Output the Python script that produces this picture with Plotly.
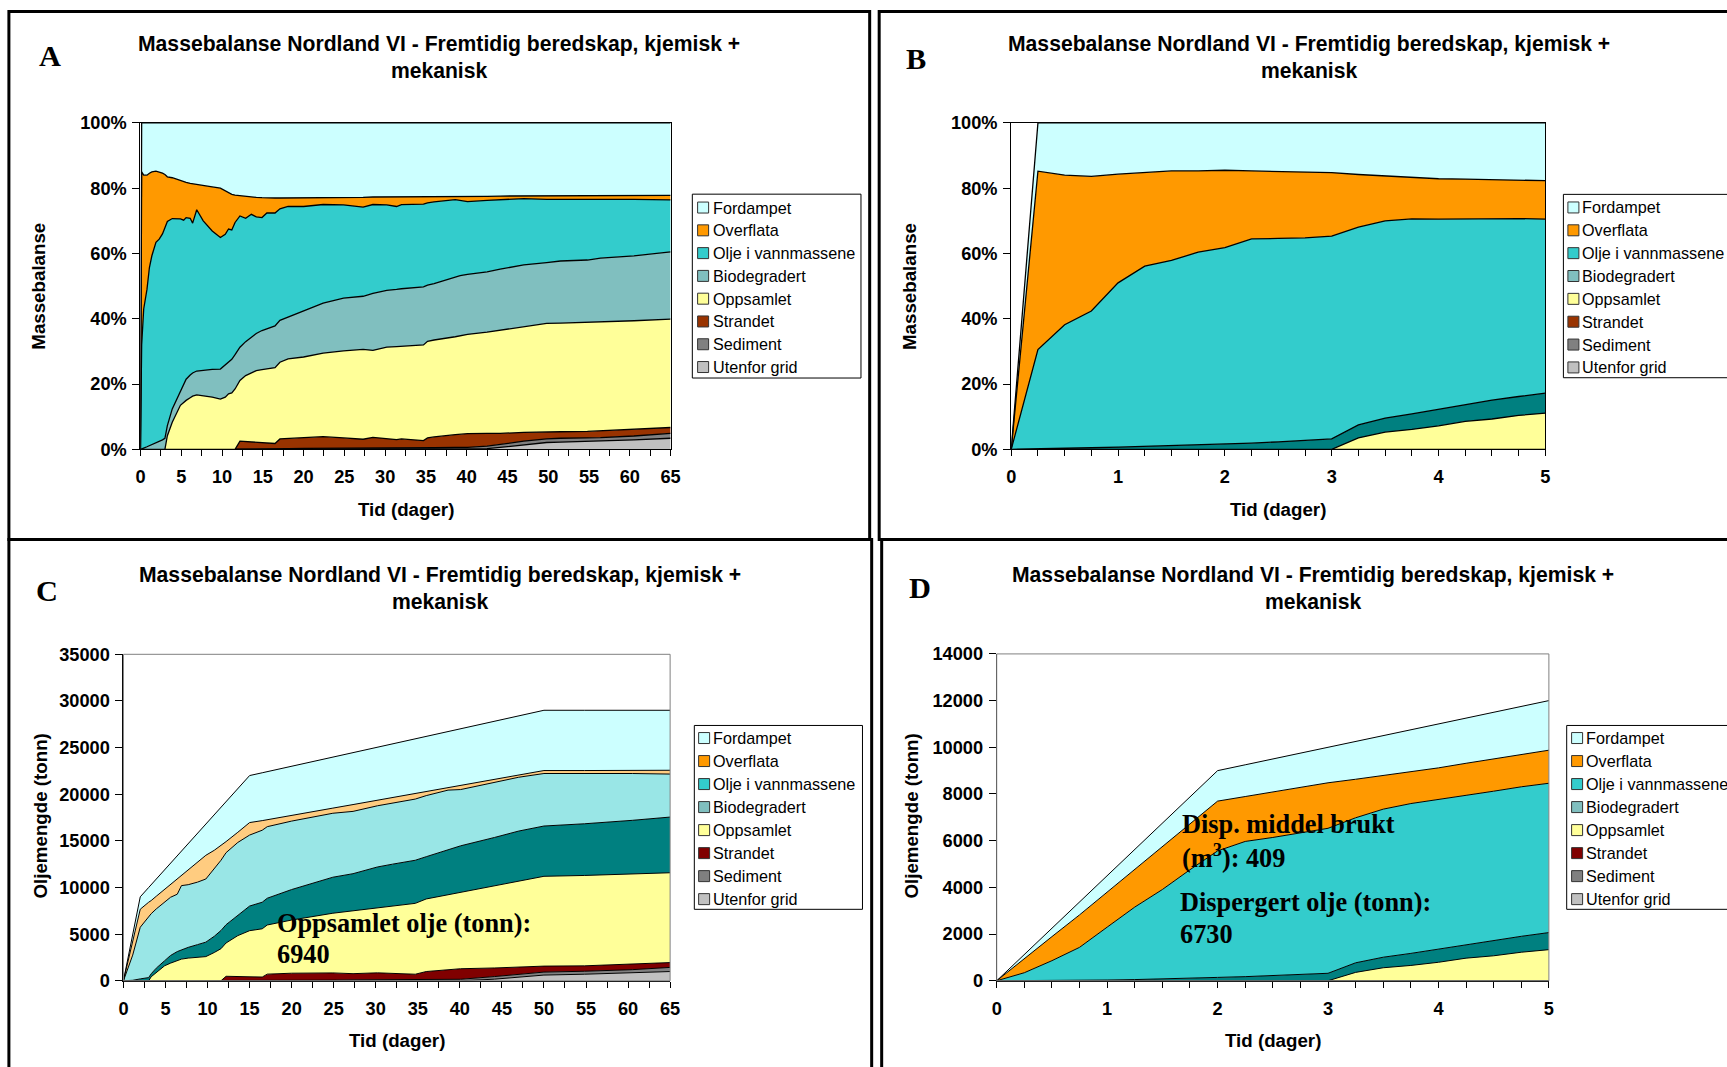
import plotly.graph_objects as go

W, H = 1727, 1067
# the captured page comes out slightly reduced and shifted; positions below are
# given in final page pixels and converted through this calibration
SX, OX = 0.991, 4.6
SY, OY = 0.982, 9.0
FS = 1.012
SANS = "Liberation Sans, Arial, Helvetica, sans-serif"
SERIF = "Liberation Serif, Times New Roman, Times, serif"

LAYERS = ["Utenfor grid", "Sediment", "Strandet", "Oppsamlet",
          "Biodegradert", "Olje i vannmassene", "Overflata", "Fordampet"]

# ---------------- Panel A: mass balance in percent, 0-65 days ----------------
days_a = [0, 0.15, 0.4, 0.8, 1.1, 1.4, 1.9, 2.3, 2.7, 3.0,
          3.3, 3.9, 4.9, 5.3, 5.6, 6.1, 6.4, 6.9, 7.7, 8.8,
          9.8, 10.4, 10.8, 11.2, 11.6, 12.2, 12.9, 13.6, 14.2, 14.9,
          15.5, 16.5, 17.1, 18.1, 20, 22.4, 24.9, 27.3, 28.5, 30.2,
          31.4, 32, 34.7, 35.2, 36, 38.6, 39.2, 40.1, 42.5, 44.1,
          47, 49.8, 51.5, 54.8, 56.4, 60.5, 65]
a_utenfor = [0] * 48 + [0.2, 0.6, 1.3, 2.1, 2.2, 2.4, 2.5, 2.9, 3.4]
a_sediment = [0] * 32 + [0.2, 0.2, 0.3, 0.3, 0.3, 0.4, 0.4, 0.4, 0.4, 0.5,
                         0.5, 0.5, 0.5, 0.6, 0.6, 0.6,
                         0.8, 1.0, 1.2, 1.1, 1.2, 1.1, 1.1, 1.2, 1.5]
a_strandet = [0] * 25 + [2.5, 2.4, 2.3, 2.2, 2.1, 2.0, 1.8,
                         3.0, 3.1, 3.2, 3.6, 3.2, 2.7, 3.3, 3.0, 2.6, 2.7,
                         2.2, 3.0, 3.3, 3.9, 4.1, 4.2,
                         3.9, 3.3, 2.7, 2.2, 2.0, 2.0, 2.1, 2.0, 1.8]
a_oppsamlet = [0] * 10 + [4.2, 8.3, 13.5, 14.5, 15.0, 15.8, 16.3, 16.7, 16.5, 16.0,
                          15.4, 16.0, 17.0, 17.3, 18.5,
                          18.6, 20.2, 21.2, 21.9, 22.3, 22.6, 23.2,
                          23.5, 24.4, 24.8, 25.6, 26.7, 27.5, 26.6, 27.9, 28.5, 28.4,
                          29.3, 29.6, 29.7, 30.0, 30.1, 30.4,
                          31.0, 31.6, 32.4, 33.2, 33.3, 33.4, 33.4, 33.3, 33.2]
a_bio = [0, 0.1, 0.4, 0.8, 1.1, 1.5, 2.1, 2.5, 2.9, 3.4,
         3.1, 4.1, 4.5, 5.5, 6.5, 7.0, 7.1, 7.3, 7.8, 8.5,
         9.2, 9.8, 9.8, 10.3, 10.5, 10.2, 10.4, 10.8, 11.4, 12.0,
         12.4, 12.8, 12.8, 12.8, 14.2, 15.3, 16.1, 16.3, 17.5, 17.4,
         17.5, 17.6, 17.8, 17.2, 17.3, 18.2, 18.4, 18.4, 18.5, 18.7,
         18.9, 18.6, 19.0, 19.1, 19.5, 19.9, 20.6]
a_olje = [0, 31.9, 42.6, 48.2, 54.6, 57.8, 61.3, 61.9, 63.1, 64.6,
          62.5, 58.3, 52.6, 50.2, 49.5, 48.0, 45.9, 49.4, 45.7, 42.4,
          40.3, 40.1, 40.7, 39.6, 40.5, 40.2, 37.8, 37.7, 35.7, 34.6,
          35.4, 34.6, 34.2, 33.9, 31.9, 30.2, 28.6, 27.3, 27.2, 26.2,
          25.4, 25.8, 25.3, 25.2, 25.0, 23.8, 23.0, 22.3, 21.9, 21.2,
          20.3, 19.4, 18.9, 18.7, 18.2, 17.3, 15.9]
a_overflata = [0, 53.0, 41.0, 35.0, 28.9, 25.7, 21.8, 20.6, 18.6, 16.2,
               13.7, 12.5, 11.7, 11.8, 10.8, 10.7, 12.1, 7.8, 10.8, 13.5,
               15.1, 13.3, 11.1, 10.9, 8.4, 6.2, 6.8, 5.3, 6.0, 6.1,
               4.6, 4.6, 3.3, 2.6, 2.6, 2.1, 2.3, 3.0, 2.3, 2.4,
               2.9, 2.3, 2.3, 1.9, 1.6, 1.0, 1.3, 1.6, 1.2, 1.2,
               0.8, 1.1, 1.1, 1.0, 0.9, 1.2, 1.4]
a_fordampet = [0, 15.0, 16.0, 16.0, 15.4, 15.0, 14.8, 15.0, 15.4, 15.8,
               16.5, 16.8, 17.7, 18.0, 18.2, 18.5, 18.6, 18.8, 19.2, 19.6,
               20.0, 20.8, 21.4, 21.9, 22.1, 22.3, 22.4, 22.7, 22.8, 22.9,
               23.0, 23.0, 23.0, 23.0, 23.0, 22.9, 22.8, 22.8, 22.7, 22.7,
               22.7, 22.7, 22.6, 22.6, 22.6, 22.5, 22.5, 22.5, 22.5, 22.4,
               22.4, 22.3, 22.3, 22.3, 22.3, 22.2, 22.2]

# ---------------- Panel B: mass balance in percent, 0-5 days ----------------
days_b = [0, 0.25, 0.5, 0.75, 1.0, 1.25, 1.5, 1.75, 2.0, 2.25, 2.5,
          2.75, 3.0, 3.25, 3.5, 3.75, 4.0, 4.25, 4.5, 4.75, 5.0]
b_utenfor = [0] * 21
b_sediment = [0] * 21
b_strandet = [0] * 21
b_oppsamlet = [0] * 13 + [3.5, 5.3, 6.1, 7.2, 8.6, 9.3, 10.4, 11.1]
b_bio = [0, 0.1, 0.3, 0.5, 0.7, 0.9, 1.1, 1.3, 1.6, 1.9, 2.3,
         2.8, 3.2, 4.0, 4.3, 4.8, 5.1, 5.2, 5.8, 5.8, 6.1]
b_olje = [0, 30.5, 37.9, 41.9, 50.3, 55.2, 56.8, 59.1, 60.2, 62.6, 62.3,
          62.0, 62.1, 60.6, 60.4, 59.7, 58.2, 56.8, 55.5, 54.5, 53.3]
b_overflata = [0, 54.6, 45.8, 41.2, 33.3, 28.7, 27.4, 24.9, 23.7, 20.8, 20.6,
               20.3, 19.5, 16.1, 13.7, 12.6, 12.4, 12.2, 12.1, 11.9, 11.8]
b_fordampet = [0, 14.8, 16.0, 16.4, 15.7, 15.2, 14.7, 14.7, 14.5, 14.7, 14.8,
               14.9, 15.2, 15.8, 16.3, 16.8, 17.1, 17.2, 17.3, 17.4, 17.7]

# ---------------- Panel C: oil amount in tonnes, 0-65 days ----------------
days_c = [0, 1.1, 2.0, 3.0, 3.3, 3.9, 4.9, 5.6, 6.4, 6.9,
          7.7, 8.8, 9.8, 10.8, 11.6, 12.2, 13.6, 15.0, 16.5, 17.1,
          20, 24.9, 27.3, 30.2, 32, 34.7, 36, 38.6, 40.1, 44.1,
          47, 50, 54.8, 60.5, 65]
c_utenfor = [0] * 29 + [170, 370, 610, 700, 840, 990]
c_sediment = [0] * 19 + [40, 70, 70, 100, 100, 130, 130, 130, 160, 160,
                         280, 340, 320, 320, 350, 440]
c_strandet = [0] * 15 + [480, 470, 460, 400,
                         670, 740, 770, 660, 750, 690, 570, 860, 1040, 1130,
                         920, 770, 640, 580, 580, 520]
c_oppsamlet = [0, 0, 0, 0, 430, 900, 1610, 1890, 2180, 2320,
               2430, 2530, 2590, 3030, 3440, 3570, 4370, 4910, 5170, 5270,
               5700, 6400, 6730, 6990, 7210, 7600, 7780, 8020, 8210, 8790,
               9200, 9630, 9690, 9660, 9630]
c_bio = [0, 50, 200, 340, 320, 450, 540, 820, 950, 1010,
         1150, 1340, 1550, 1740, 1950, 1960, 2220, 2640, 2850, 2870,
         3270, 3860, 3990, 4360, 4470, 4620, 4530, 4860, 4970, 5200,
         5370, 5390, 5540, 5770, 5970]
c_olje = [0, 2700, 5540, 6460, 6440, 6350, 6260, 6240, 6150, 6870,
          6720, 6700, 6770, 7240, 7530, 7720, 7770, 7610, 7720, 7670,
          7340, 6860, 6680, 6560, 6550, 6560, 6550, 6360, 6030, 5900,
          5770, 5630, 5420, 5020, 4610]
c_overflata = [0, 1430, 1930, 1620, 1410, 1360, 1390, 1360, 1620, 1080,
               1590, 2130, 2540, 1980, 1560, 1190, 1090, 1340, 1030, 740,
               600, 550, 730, 600, 580, 600, 420, 270, 430, 330,
               230, 320, 290, 350, 410]
c_fordampet = [0, 770, 1330, 1580, 1700, 1840, 2100, 2290, 2500, 2620,
               2810, 3100, 3350, 3810, 4120, 4280, 4680, 5040, 5130, 5160,
               5280, 5470, 5570, 5680, 5770, 5860, 5930, 6010, 6090, 6230,
               6350, 6460, 6460, 6430, 6430]

# ---------------- Panel D: oil amount in tonnes, 0-5 days ----------------
days_d = days_b
d_utenfor = [0] * 21
d_sediment = [0] * 21
d_strandet = [0] * 21
d_oppsamlet = [0] * 13 + [359, 557, 656, 792, 968, 1070, 1222, 1332]
d_bio = [0, 1, 7, 17, 32, 51, 74, 102, 144, 176, 219,
         273, 320, 410, 452, 516, 561, 585, 667, 682, 732]
d_olje = [0, 343, 853, 1414, 2264, 3105, 3834, 4654, 5418, 5791, 5919,
          6045, 6210, 6212, 6342, 6418, 6402, 6390, 6383, 6404, 6396]
d_overflata = [0, 614, 1031, 1391, 1499, 1614, 1850, 1961, 2133, 1924, 1957,
               1979, 1950, 1650, 1439, 1355, 1364, 1373, 1392, 1398, 1416]
d_fordampet = [0, 167, 359, 553, 705, 855, 992, 1158, 1305, 1359, 1405,
               1453, 1520, 1619, 1710, 1805, 1881, 1934, 1988, 2044, 2124]

TITLE = "Massebalanse Nordland VI - Fremtidig beredskap, kjemisk +<br>mekanisk"

# fill colours, bottom layer first
COL_A = ["#C0C0C0", "#808080", "#993300", "#FFFF99", "#80BFBF", "#33CCCC", "#FF9900", "#CCFFFF"]
COL_B = ["#C0C0C0", "#808080", "#993300", "#FFFF99", "#008080", "#33CCCC", "#FF9900", "#CCFFFF"]
COL_C = ["#C0C0C0", "#808080", "#800000", "#FFFF99", "#008080", "#99E6E6", "#FFCC80", "#CCFFFF"]
COL_D = ["#C0C0C0", "#808080", "#800000", "#FFFF99", "#008080", "#33CCCC", "#FF9900", "#CCFFFF"]
KEY_AB = ["#C0C0C0", "#808080", "#993300", "#FFFF99", "#80BFBF", "#33CCCC", "#FF9900", "#CCFFFF"]
KEY_CD = ["#C0C0C0", "#808080", "#800000", "#FFFF99", "#80BFBF", "#33CCCC", "#FF9900", "#CCFFFF"]


def fx(p):
    return (p - OX) / SX / W


def fy(p):
    return 1 - (p - OY) / SY / H


fig = go.Figure()


def add_stack(days, series, colors, xa, ya, group, lw):
    for name, vals, col in zip(LAYERS, series, colors):
        fig.add_trace(go.Scatter(
            x=days, y=vals, name=name, stackgroup=group, mode="lines",
            line=dict(color="black", width=lw), fillcolor=col,
            xaxis=xa, yaxis=ya, showlegend=False, hoverinfo="skip"))


add_stack(days_a, [a_utenfor, a_sediment, a_strandet, a_oppsamlet, a_bio, a_olje, a_overflata, a_fordampet],
          COL_A, "x", "y", "A", 1.3)
add_stack(days_b, [b_utenfor, b_sediment, b_strandet, b_oppsamlet, b_bio, b_olje, b_overflata, b_fordampet],
          COL_B, "x2", "y2", "B", 1.3)
add_stack(days_c, [c_utenfor, c_sediment, c_strandet, c_oppsamlet, c_bio, c_olje, c_overflata, c_fordampet],
          COL_C, "x3", "y3", "C", 1.0)
add_stack(days_d, [d_utenfor, d_sediment, d_strandet, d_oppsamlet, d_bio, d_olje, d_overflata, d_fordampet],
          COL_D, "x4", "y4", "D", 1.0)

# plot-area page boxes (left, right, top, bottom)
BOX_A = (140, 670, 122, 448.7)
BOX_B = (1010.5, 1544.5, 122, 448.7)
BOX_C = (123, 669.5, 653.8, 980.5)
BOX_D = (996, 1548, 653.4, 980.5)

tick_font = dict(family=SANS, size=18 * FS, color="black", weight="bold")


def x_axis(box, anchor, rng, major, minor, mirror):
    return dict(domain=[fx(box[0]), fx(box[1])], anchor=anchor, range=rng,
                tickmode="linear", tick0=0, dtick=major,
                ticks="outside", ticklen=6, tickwidth=1, tickcolor="black",
                minor=dict(tickmode="linear", tick0=0, dtick=minor, ticks="outside",
                           ticklen=6, tickwidth=1, tickcolor="black", showgrid=False),
                showline=True, linecolor="black", linewidth=1, mirror=mirror,
                showgrid=False, zeroline=False, tickfont=tick_font,
                ticklabelstandoff=5, fixedrange=True)


def y_axis(box, anchor, rng, step, suffix, mirror):
    return dict(domain=[fy(box[3]), fy(box[2])], anchor=anchor, range=rng,
                tickmode="linear", tick0=0, dtick=step, ticksuffix=suffix, tickformat="d",
                ticks="outside", ticklen=7, tickwidth=1, tickcolor="black",
                showline=True, linecolor="black", linewidth=1, mirror=mirror,
                showgrid=False, zeroline=False, tickfont=tick_font,
                ticklabelstandoff=2, fixedrange=True)


def inner_ticks(over, anchor, rng, step):
    return dict(overlaying=over, anchor=anchor, range=rng, tickmode="linear", tick0=0,
                dtick=step, ticks="inside", ticklen=5, tickwidth=1, tickcolor="black",
                showticklabels=False, showline=False, showgrid=False, zeroline=False,
                fixedrange=True)


shapes = []
annotations = []


def text(x, y, s, size, family=SANS, weight="bold", xanchor="center", angle=0):
    annotations.append(dict(x=fx(x), y=fy(y), xref="paper", yref="paper", text=s,
                            showarrow=False, xanchor=xanchor, yanchor="middle",
                            textangle=angle, borderpad=0,
                            font=dict(family=family, size=size * FS, color="black", weight=weight)))


def rect(x0, y0, x1, y1, color="black", width=1, fill=None):
    shapes.append(dict(type="rect", xref="paper", yref="paper",
                       x0=fx(x0), x1=fx(x1), y0=fy(y1), y1=fy(y0),
                       line=dict(color=color, width=width),
                       fillcolor=fill if fill else "rgba(0,0,0,0)", layer="above"))


# panel frames
rect(8.5, 10.5, 869, 539, width=3)
rect(878.5, 10.5, 1745, 539, width=3)
rect(8.5, 539, 871, 1080, width=3)
rect(881, 539, 1745, 1080, width=3)

# grey frame around the tonnage plot areas
rect(BOX_C[0], BOX_C[2], BOX_C[1], BOX_C[3], color="#808080", width=1)
rect(BOX_D[0], BOX_D[2], BOX_D[1], BOX_D[3], color="#808080", width=1)


def key(left, top, right, bottom, colors, first_row, step, sw_x, tx_x):
    rect(left, top, right, bottom, color="#000000", width=1, fill="white")
    names = LAYERS[::-1]
    cols = colors[::-1]
    for i, (nm, col) in enumerate(zip(names, cols)):
        yc = first_row + i * step
        rect(sw_x, yc - 5.5, sw_x + 11, yc + 5.5, color="#333333", width=1, fill=col)
        text(tx_x, yc, nm, 16, weight="normal", xanchor="left")


key(691.7, 193.3, 860.3, 377.3, KEY_AB, 206.7, 22.8, 697, 711)
key(1562.5, 193.5, 1745, 377.0, KEY_AB, 206.6, 22.87, 1567, 1580)
key(693.7, 725, 861.8, 909, KEY_CD, 737.6, 23.03, 698, 711.5)
key(1565.8, 725, 1745, 909, KEY_CD, 737.6, 23.03, 1570.7, 1584.5)

# chart titles
text(438.7, 56.5, TITLE, 20.9)
text(1308.6, 56.5, TITLE, 20.9)
text(439, 587, TITLE, 20.9)
text(1312, 587, TITLE, 20.9)

# panel letters
text(50, 54.8, "A", 30, family=SERIF)
text(915.6, 58.2, "B", 30, family=SERIF)
text(46.5, 590, "C", 30, family=SERIF)
text(919, 587, "D", 30, family=SERIF)

# axis titles
text(38, 285.5, "Massebalanse", 18.5, angle=-90)
text(909, 285.5, "Massebalanse", 18.5, angle=-90)
text(39.7, 816, "Oljemengde (tonn)", 18.5, angle=-90)
text(910.5, 816, "Oljemengde (tonn)", 18.5, angle=-90)
text(405, 509, "Tid (dager)", 18.5)
text(1277.5, 509, "Tid (dager)", 18.5)
text(396.5, 1040, "Tid (dager)", 18.5)
text(1272, 1040, "Tid (dager)", 18.5)

# notes inside the tonnage charts
text(275.4, 923.5, "Oppsamlet olje (tonn):", 26, family=SERIF, xanchor="left")
text(275.4, 954.5, "6940", 26, family=SERIF, xanchor="left")
text(1180.7, 823.7, "Disp. middel brukt", 26, family=SERIF, xanchor="left")
text(1180.7, 856.5, "(m<sup>3</sup>): 409", 26, family=SERIF, xanchor="left")
text(1177.8, 902.2, "Dispergert olje (tonn):", 26, family=SERIF, xanchor="left")
text(1177.8, 934.2, "6730", 26, family=SERIF, xanchor="left")

fig.update_layout(
    width=W, height=H, autosize=False,
    margin=dict(l=0, r=0, t=0, b=0, pad=0),
    paper_bgcolor="white", plot_bgcolor="white",
    showlegend=False,
    xaxis=x_axis(BOX_A, "y", [0, 65], 5, 2.5, True),
    yaxis=y_axis(BOX_A, "x", [0, 100], 20, "%", True),
    xaxis2=x_axis(BOX_B, "y2", [0, 5], 1, 0.25, True),
    yaxis2=y_axis(BOX_B, "x2", [0, 100], 20, "%", True),
    xaxis3=x_axis(BOX_C, "y3", [0, 65], 5, 2.5, False),
    yaxis3=y_axis(BOX_C, "x3", [0, 35000], 5000, "", False),
    xaxis4=x_axis(BOX_D, "y4", [0, 5], 1, 0.25, False),
    yaxis4=y_axis(BOX_D, "x4", [0, 14000], 2000, "", False),
    xaxis5=inner_ticks("x", "y", [0, 65], 2.5),
    xaxis6=inner_ticks("x2", "y2", [0, 5], 0.25),
    shapes=shapes,
    annotations=annotations,
)

fig.write_html("out.html")
